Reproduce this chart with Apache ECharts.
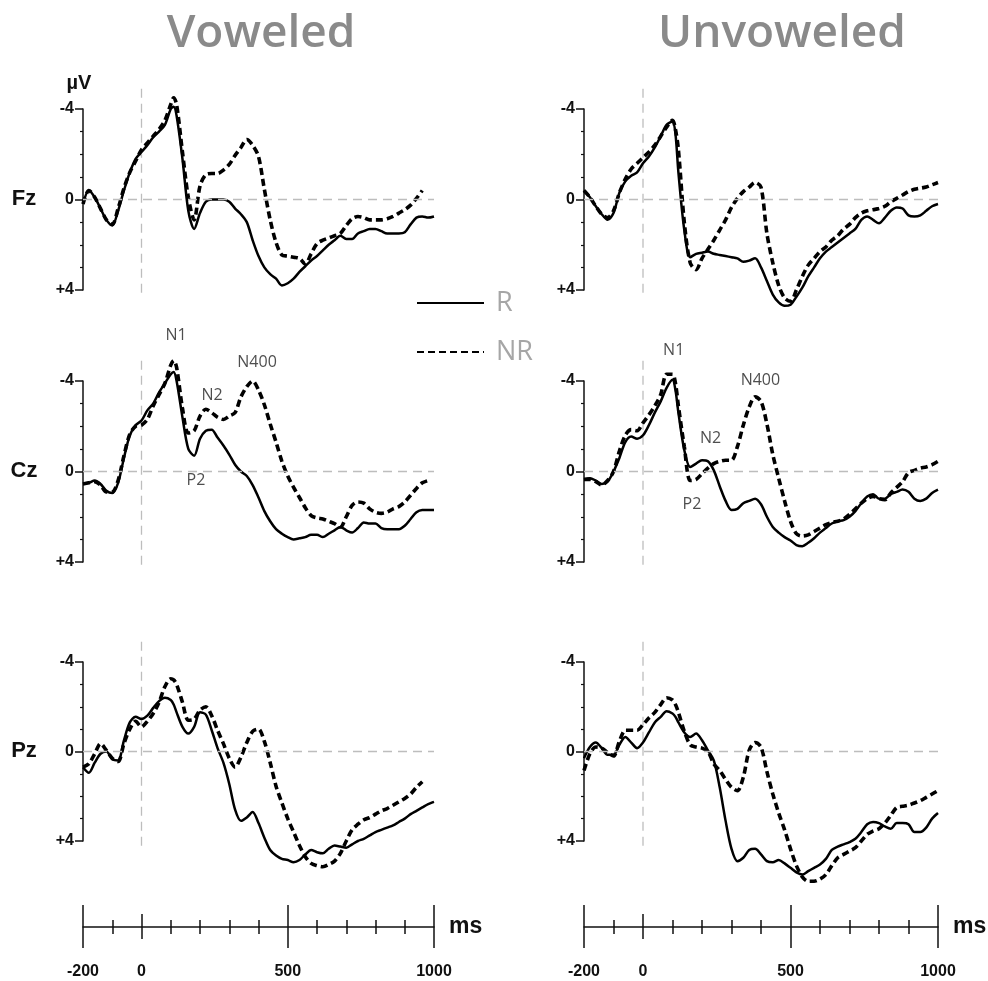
<!DOCTYPE html>
<html>
<head>
<meta charset="utf-8">
<title>Voweled / Unvoweled ERP</title>
<script src="https://cdn.jsdelivr.net/npm/echarts@6.0.0/dist/echarts.min.js"></script>
<style>
  html, body { margin: 0; padding: 0; background: #fff; }
  #erp { width: 988px; height: 981px; }
</style>
</head>
<body>
<div id="erp"></div>
<script>
// time points (ms) shared by every waveform
var ms = [-200,-180,-160,-140,-120,-100,-80,-60,-40,-20,0,20,40,60,80,100,110,120,140,160,180,200,220,240,260,280,300,320,340,360,380,400,420,440,460,480,500,520,540,560,580,600,620,640,660,680,700,720,740,760,780,800,820,840,860,880,900,920,940,960,980,1000];

// amplitudes in µV (negative is drawn upward), R = solid, NR = dashed
var fzVowR  = [0.19,-0.4,-0.1,0.4,0.9,1.15,0.5,-0.4,-1.2,-1.8,-2.1,-2.4,-2.75,-3.0,-3.3,-4.0,-4.1,-3.7,-1.8,0.5,1.3,0.6,0.1,0.0,0.0,0.0,0.1,0.4,0.65,1.0,1.8,2.5,3.0,3.3,3.5,3.8,3.7,3.5,3.2,2.95,2.7,2.5,2.25,2.0,1.8,1.6,1.75,1.75,1.5,1.4,1.3,1.3,1.4,1.5,1.5,1.5,1.45,1.1,0.8,0.75,0.8,0.75];
var fzVowNR = [0.2,-0.4,-0.1,0.4,0.9,1.1,0.4,-0.5,-1.2,-1.7,-2.2,-2.5,-2.8,-3.1,-3.5,-4.2,-4.5,-4.2,-2.1,-0.1,0.9,-0.6,-1.1,-1.15,-1.15,-1.3,-1.55,-1.95,-2.3,-2.65,-2.4,-1.9,-0.45,0.9,1.9,2.45,2.5,2.55,2.6,2.85,2.4,1.95,1.8,1.7,1.6,1.5,1.15,0.85,0.75,0.8,0.9,0.9,0.9,0.85,0.75,0.6,0.45,0.25,-0.05,-0.4,null,null];
var fzUnvR  = [-0.4,-0.1,0.3,0.65,0.9,0.6,-0.3,-0.8,-1.05,-1.2,-1.6,-1.9,-2.3,-2.8,-3.3,-3.45,-2.9,-1.2,1.35,2.55,2.4,2.35,2.3,2.4,2.45,2.5,2.55,2.6,2.75,2.7,2.6,3.0,3.6,4.2,4.55,4.7,4.65,4.3,3.9,3.4,3.0,2.6,2.3,2.1,1.9,1.7,1.5,1.3,0.9,0.75,0.9,1.05,0.8,0.5,0.35,0.4,0.7,0.75,0.7,0.5,0.3,0.2];
var fzUnvNR = [-0.4,-0.1,0.3,0.65,0.8,0.5,-0.3,-0.9,-1.35,-1.6,-1.85,-2.1,-2.4,-2.8,-3.2,-3.5,-3.1,-2.2,1.0,2.8,3.1,2.6,2.2,1.8,1.35,0.9,0.35,-0.05,-0.35,-0.55,-0.75,-0.55,1.5,2.8,3.8,4.35,4.5,4.0,3.4,2.9,2.6,2.3,2.1,1.8,1.6,1.3,1.1,0.8,0.6,0.5,0.45,0.4,0.3,0.1,-0.05,-0.2,-0.35,-0.45,-0.5,-0.55,-0.65,-0.75];
var czVowR  = [0.55,0.5,0.4,0.55,0.85,0.95,0.5,-0.6,-1.6,-2.05,-2.25,-2.7,-3.0,-3.5,-3.9,-4.3,-4.4,-4.0,-2.4,-1.0,-0.7,-1.45,-1.8,-1.85,-1.5,-1.15,-0.75,-0.3,0.0,0.2,0.6,1.15,1.75,2.2,2.55,2.75,2.9,3.0,2.95,2.9,2.8,2.8,2.9,2.75,2.6,2.45,2.6,2.7,2.5,2.25,2.3,2.3,2.5,2.55,2.55,2.55,2.4,2.1,1.8,1.7,1.7,1.7];
var czVowNR = [0.55,0.5,0.45,0.6,0.9,0.9,0.4,-0.7,-1.65,-2.0,-2.05,-2.3,-2.9,-3.4,-3.9,-4.7,-4.9,-4.6,-2.8,-1.7,-1.8,-2.45,-2.75,-2.6,-2.4,-2.3,-2.45,-2.6,-3.3,-3.75,-4.0,-3.6,-2.95,-2.1,-1.3,-0.45,0.2,0.7,1.15,1.6,1.95,2.05,2.1,2.2,2.3,2.45,2.0,1.5,1.35,1.4,1.65,1.8,1.85,1.8,1.65,1.55,1.35,1.05,0.75,0.5,0.4,null];
var czUnvR  = [0.35,0.3,0.4,0.55,0.45,0.0,-0.6,-1.3,-1.55,-1.45,-1.6,-2.05,-2.6,-3.1,-3.7,-4.05,-3.6,-2.6,-0.95,-0.2,-0.35,-0.5,-0.45,-0.05,0.65,1.3,1.7,1.65,1.4,1.3,1.2,1.45,2.0,2.45,2.7,2.9,3.05,3.25,3.3,3.15,2.95,2.7,2.5,2.3,2.2,2.15,2.0,1.75,1.4,1.1,1.0,1.2,1.2,1.0,0.9,0.8,0.9,1.2,1.3,1.2,0.95,0.8];
var czUnvNR = [0.35,0.35,0.45,0.6,0.4,0.0,-0.9,-1.6,-1.85,-1.8,-2.15,-2.5,-2.9,-3.4,-4.3,-4.3,-3.9,-2.9,-1.1,0.4,0.35,0.1,-0.15,-0.35,-0.45,-0.5,-0.5,-1.1,-2.05,-2.85,-3.3,-3.1,-2.1,-0.75,0.3,1.3,2.2,2.75,2.85,2.8,2.65,2.5,2.35,2.25,2.2,2.1,1.9,1.65,1.4,1.2,1.1,1.2,1.25,0.95,0.7,0.45,0.05,-0.05,-0.15,-0.2,-0.3,-0.45];
var pzVowR  = [0.7,0.95,0.5,0.1,0.0,0.35,0.4,-0.5,-1.3,-1.55,-1.45,-1.6,-1.95,-2.25,-2.4,-2.3,-2.1,-1.75,-1.1,-0.8,-1.1,-1.75,-1.65,-0.95,-0.15,0.5,1.45,2.6,3.1,2.95,2.7,3.2,3.85,4.4,4.65,4.8,4.85,4.95,4.85,4.6,4.4,4.5,4.55,4.35,4.2,4.25,4.3,4.15,4.0,3.9,3.75,3.6,3.5,3.4,3.3,3.15,3.0,2.8,2.65,2.5,2.35,2.25];
var pzVowNR = [0.7,0.55,0.1,-0.35,-0.05,0.3,0.45,-0.35,-1.0,-1.35,-1.1,-1.35,-1.7,-2.2,-2.9,-3.25,-3.2,-3.0,-2.2,-1.4,-1.45,-1.85,-2.0,-1.6,-0.95,-0.35,0.3,0.7,0.25,-0.4,-0.9,-1.0,-0.45,0.5,1.55,2.3,3.0,3.6,4.2,4.7,5.0,5.1,5.15,5.05,4.9,4.55,4.0,3.5,3.25,3.05,2.95,2.8,2.65,2.55,2.4,2.25,2.1,1.9,1.6,1.35,null,null];
var pzUnvR  = [0.3,-0.2,-0.4,-0.15,0.15,0.15,-0.3,-0.65,-0.4,-0.15,-0.4,-0.85,-1.3,-1.55,-1.8,-1.7,-1.55,-1.3,-0.85,-0.65,-0.8,-0.5,-0.05,0.4,1.6,3.1,4.35,4.9,4.75,4.4,4.35,4.6,4.9,4.95,4.85,5.0,5.2,5.4,5.5,5.35,5.2,5.05,4.8,4.4,4.25,4.15,4.05,3.9,3.6,3.25,3.15,3.2,3.35,3.45,3.2,3.2,3.25,3.6,3.6,3.4,3.0,2.75];
var pzUnvNR = [0.85,0.1,-0.2,-0.15,0.05,0.2,-0.45,-0.95,-0.95,-0.95,-1.2,-1.5,-1.75,-2.1,-2.4,-2.3,-2.1,-1.75,-0.9,-0.3,-0.2,-0.15,0.0,0.55,0.85,1.25,1.6,1.75,1.15,-0.05,-0.4,-0.2,0.9,1.9,2.75,3.5,4.35,5.1,5.6,5.8,5.8,5.7,5.5,5.1,4.75,4.6,4.45,4.3,4.0,3.7,3.55,3.45,3.2,2.85,2.5,2.45,2.4,2.3,2.2,2.05,1.9,1.75];

// component labels on the Cz panels: name, time (ms), µV
var peakNames    = ['N1', 'N2', 'N400', 'P2'];
var czVowPeakMs  = [118, 241, 395, 186];
var czVowPeakUv  = [-6.0, -3.36, -4.8, 0.4];
var czUnvPeakMs  = [104, 229, 398, 166];
var czUnvPeakUv  = [-5.35, -1.46, -4.03, 1.46];

// time axis ticks
var timeLabels = [-200, 0, 500, 1000];
var longTicks  = [-200, 500, 1000];
var midTicks   = [0];

// dashed stimulus-onset line: time and vertical extent (µV)
var onsetMs = 0;
var onsetSpan = [-4.9, 4.25];

// layout
var colLeft = [83, 584], colWidth = [351, 354];
var rowTop = [109, 381, 662], rowHeight = [181, 181, 179];
var numFont = '"Liberation Sans", Arial, sans-serif';
var refLine = { color: '#bdbdbd', type: [9, 6], width: 1.3 };

var panels = [
    { row: 0, col: 0, r: fzVowR, nr: fzVowNR },
    { row: 0, col: 1, r: fzUnvR, nr: fzUnvNR },
    { row: 1, col: 0, r: czVowR, nr: czVowNR, peaks: [czVowPeakMs, czVowPeakUv] },
    { row: 1, col: 1, r: czUnvR, nr: czUnvNR, peaks: [czUnvPeakMs, czUnvPeakUv] },
    { row: 2, col: 0, r: pzVowR, nr: pzVowNR },
    { row: 2, col: 1, r: pzUnvR, nr: pzUnvNR }
];

function pairs(vals) {
    return ms.map(function (t, i) { return [t, vals[i]]; });
}

var grids = [], xAxes = [], yAxes = [], series = [];

panels.forEach(function (p, i) {
    grids.push({ left: colLeft[p.col], width: colWidth[p.col], top: rowTop[p.row], height: rowHeight[p.row] });
    xAxes.push({ gridIndex: i, type: 'value', min: -200, max: 1000, show: false });
    yAxes.push({
        gridIndex: i, type: 'value', inverse: true, position: 'left',
        min: -4, max: 4, interval: 4,
        splitLine: { show: false },
        axisLine: { show: true, onZero: false, lineStyle: { color: '#111', width: 1.5 } },
        axisTick: { show: true, length: 8, lineStyle: { color: '#111', width: 1.5 } },
        minorTick: { show: true, splitNumber: 4, length: 3, lineStyle: { color: '#111', width: 1.2 } },
        axisLabel: {
            margin: 9, color: '#111', fontSize: 16, fontWeight: 'bold', fontFamily: numFont,
            formatter: function (v) { return v > 0 ? '+' + v : String(v); }
        }
    });
    // dashed onset line (vertical) drawn as a two-point line
    series.push({
        name: 'onset', type: 'line', xAxisIndex: i, yAxisIndex: i, silent: true,
        data: [[onsetMs, onsetSpan[0]], [onsetMs, onsetSpan[1]]],
        symbol: 'none', clip: false, z: 1, lineStyle: refLine
    });
    series.push({
        name: 'R', type: 'line', xAxisIndex: i, yAxisIndex: i,
        data: pairs(p.r), symbol: 'none', smooth: 0.3, clip: false, z: 3,
        lineStyle: { color: '#000', width: 2.5 }, itemStyle: { color: '#000' },
        markLine: {
            silent: true, symbol: ['none', 'none'], label: { show: false },
            lineStyle: refLine,
            data: [{ yAxis: 0 }]
        }
    });
    series.push({
        name: 'NR', type: 'line', xAxisIndex: i, yAxisIndex: i,
        data: pairs(p.nr), symbol: 'none', smooth: 0.3, clip: false, z: 4,
        lineStyle: { color: '#000', width: 3.6, type: [7, 4] }, itemStyle: { color: '#000' }
    });
    if (p.peaks) {
        series.push({
            name: 'peaks', type: 'scatter', xAxisIndex: i, yAxisIndex: i, clip: false, silent: true,
            symbolSize: 1, itemStyle: { color: 'rgba(0,0,0,0)' },
            data: peakNames.map(function (n, k) { return [p.peaks[0][k], p.peaks[1][k], n]; }),
            label: {
                show: true, position: 'inside', color: '#222', fontSize: 16,
                fontFamily: '"Open Sans", sans-serif',
                formatter: function (d) { return d.value[2]; }
            }
        });
    }
});

// bottom time scales, one per column, ticks drawn on both sides of the line
[0, 1].forEach(function (c) {
    var g = grids.length;
    grids.push({ left: colLeft[c], width: colWidth[c], top: 880, height: 47 });
    yAxes.push({ gridIndex: g, type: 'value', show: false });
    function timeAxis(extra) {
        var ax = {
            gridIndex: g, type: 'value', position: 'bottom', offset: 0,
            min: -200, max: 1000, interval: 100,
            splitLine: { show: false }, axisLine: { show: false },
            axisLabel: { show: false }, axisTick: { show: false }
        };
        for (var k in extra) ax[k] = extra[k];
        return ax;
    }
    var tickStyle = { color: '#111', width: 1.5 };
    xAxes.push(timeAxis({
        axisLine: { show: true, lineStyle: { color: '#111', width: 1.5 } },
        axisTick: { show: true, length: 7, lineStyle: tickStyle },
        axisLabel: {
            show: true, customValues: timeLabels, margin: 37, color: '#111',
            fontSize: 16, fontWeight: 'bold', fontFamily: numFont,
            formatter: function (v) { return String(v); }
        },
        name: 'ms', nameLocation: 'end', nameGap: 15,
        nameTextStyle: { fontSize: 23, fontWeight: 'bold', fontFamily: numFont, color: '#111', verticalAlign: 'middle' }
    }));
    xAxes.push(timeAxis({ axisTick: { show: true, inside: true, length: 7, lineStyle: tickStyle } }));
    xAxes.push(timeAxis({ axisTick: { show: true, customValues: longTicks, length: 21, lineStyle: tickStyle } }));
    xAxes.push(timeAxis({ axisTick: { show: true, inside: true, customValues: longTicks, length: 22, lineStyle: tickStyle } }));
    xAxes.push(timeAxis({ axisTick: { show: true, customValues: midTicks, length: 12, lineStyle: tickStyle } }));
    xAxes.push(timeAxis({ axisTick: { show: true, inside: true, customValues: midTicks, length: 13, lineStyle: tickStyle } }));
});

function label(text, x, y, font, fill, shadow) {
    var st = { text: text, font: font, fill: fill, align: 'center', verticalAlign: 'middle' };
    if (shadow) {
        st.shadowColor = 'rgba(0,0,0,0.4)';
        st.shadowBlur = 4;
        st.shadowOffsetX = 1;
        st.shadowOffsetY = 2;
    }
    return { type: 'text', x: x, y: y, silent: true, style: st };
}

var myChart = echarts.init(document.getElementById('erp'));

var option = {
    animation: false,
    backgroundColor: '#fff',
    legend: {
        data: ['R', 'NR'], orient: 'vertical', left: 416, top: 288, padding: 0,
        itemWidth: 67, itemHeight: 30, itemGap: 19, selectedMode: false,
        itemStyle: { color: 'rgba(0,0,0,0)', borderColor: 'rgba(0,0,0,0)', borderWidth: 0 },
        textStyle: { color: '#a6a6a6', fontSize: 27, lineHeight: 30, fontFamily: '"Open Sans", sans-serif', padding: [0, 0, 0, 7] }
    },
    graphic: [
        label('Voweled', 261, 34, '600 46px "Open Sans", sans-serif', '#8a8a8a', true),
        label('Unvoweled', 782, 34, '600 46px "Open Sans", sans-serif', '#8a8a8a', true),
        label('µV', 79, 83, 'bold 20px ' + numFont, '#111'),
        label('Fz', 24, 199, 'bold 22px ' + numFont, '#111'),
        label('Cz', 24, 471, 'bold 22px ' + numFont, '#111'),
        label('Pz', 24, 751, 'bold 22px ' + numFont, '#111')
    ],
    grid: grids,
    xAxis: xAxes,
    yAxis: yAxes,
    series: series
};

myChart.setOption(option);
</script>
</body>
</html>
